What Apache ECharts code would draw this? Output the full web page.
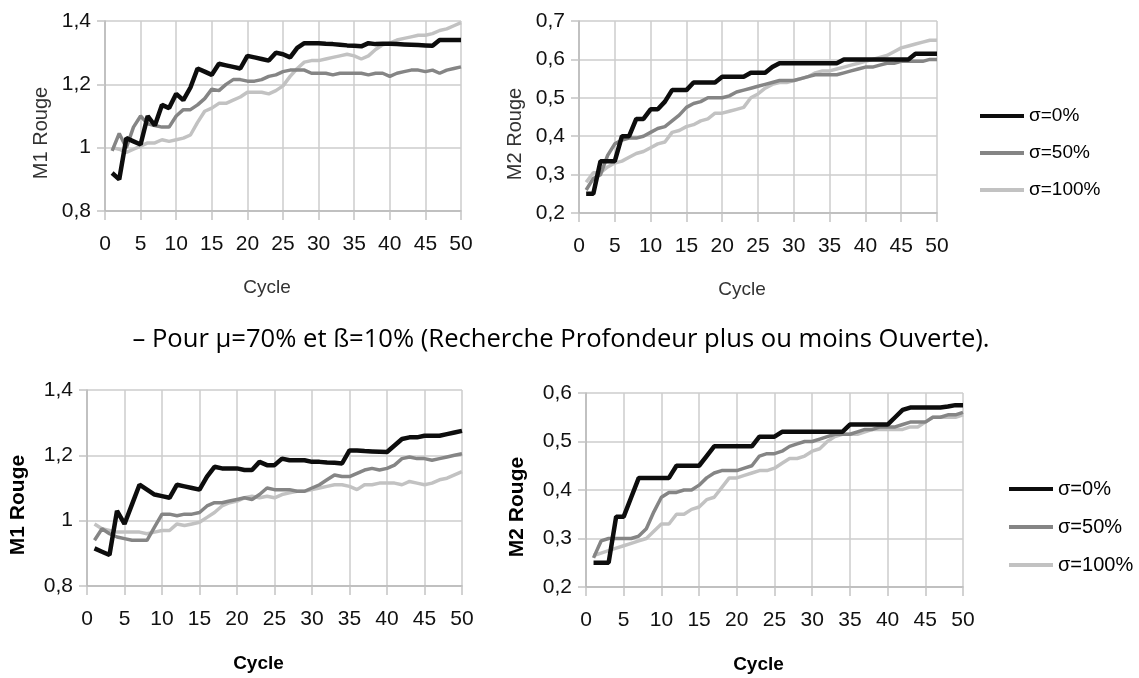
<!DOCTYPE html>
<html>
<head>
<meta charset="utf-8">
<script src="https://cdn.jsdelivr.net/npm/echarts@6/dist/echarts.min.js"></script>
<style>
  html, body { margin: 0; padding: 0; background: #fff; }
  #chart { width: 1139px; height: 678px; }
</style>
</head>
<body>
<div id="chart"></div>
<script>
// cycles 1..50
const cycles = [1,2,3,4,5,6,7,8,9,10,11,12,13,14,15,16,17,18,19,20,21,22,23,24,25,26,27,28,29,30,31,32,33,34,35,36,37,38,39,40,41,42,43,44,45,46,47,48,49,50];
const seriesNames = ['σ=0%', 'σ=50%', 'σ=100%'];
const caption = '– Pour µ=70% et ß=10% (Recherche Profondeur plus ou moins Ouverte).';

// top pair of charts
const topM1S0 = [0.92,0.90,1.03,1.02,1.01,1.10,1.07,1.135,1.125,1.17,1.15,1.19,1.25,1.24,1.23,1.265,1.26,1.255,1.25,1.29,1.285,1.28,1.275,1.30,1.295,1.285,1.315,1.33,1.33,1.33,1.328,1.327,1.325,1.323,1.322,1.32,1.33,1.327,1.328,1.328,1.327,1.326,1.325,1.324,1.323,1.322,1.34,1.34,1.34,1.34];
const topM1S50 = [0.99,1.045,1.00,1.065,1.10,1.075,1.07,1.065,1.065,1.10,1.12,1.12,1.135,1.155,1.185,1.18,1.20,1.215,1.215,1.21,1.21,1.215,1.225,1.23,1.24,1.245,1.245,1.245,1.235,1.235,1.235,1.23,1.235,1.235,1.235,1.235,1.23,1.235,1.235,1.225,1.235,1.24,1.245,1.245,1.24,1.245,1.235,1.245,1.25,1.255];
const topM1S100 = [1.0,0.995,0.985,0.995,1.005,1.015,1.015,1.025,1.02,1.025,1.03,1.04,1.08,1.115,1.125,1.14,1.14,1.15,1.16,1.175,1.175,1.175,1.17,1.18,1.195,1.225,1.25,1.27,1.275,1.275,1.28,1.285,1.29,1.295,1.29,1.28,1.29,1.31,1.325,1.33,1.34,1.345,1.35,1.355,1.355,1.36,1.37,1.375,1.385,1.395];

const topM2S0 = [0.25,0.25,0.335,0.335,0.335,0.40,0.40,0.445,0.445,0.47,0.47,0.49,0.52,0.52,0.52,0.54,0.54,0.54,0.54,0.555,0.555,0.555,0.555,0.565,0.565,0.565,0.58,0.59,0.59,0.59,0.59,0.59,0.59,0.59,0.59,0.59,0.60,0.60,0.60,0.60,0.60,0.60,0.60,0.60,0.60,0.60,0.615,0.615,0.615,0.615];
const topM2S50 = [0.26,0.29,0.30,0.35,0.38,0.39,0.395,0.395,0.40,0.41,0.42,0.425,0.44,0.455,0.475,0.485,0.49,0.50,0.50,0.50,0.505,0.515,0.52,0.525,0.53,0.535,0.54,0.545,0.545,0.545,0.55,0.555,0.56,0.56,0.56,0.56,0.565,0.57,0.575,0.58,0.58,0.585,0.59,0.59,0.595,0.595,0.595,0.595,0.60,0.60];
const topM2S100 = [0.28,0.305,0.305,0.32,0.33,0.335,0.345,0.355,0.36,0.37,0.38,0.385,0.41,0.415,0.425,0.43,0.44,0.445,0.46,0.46,0.465,0.47,0.475,0.50,0.51,0.525,0.535,0.54,0.54,0.545,0.55,0.555,0.565,0.57,0.57,0.575,0.58,0.585,0.59,0.595,0.60,0.605,0.61,0.62,0.63,0.635,0.64,0.645,0.65,0.65];

// bottom pair (mu=70%, beta=10%)
const botM1S0 = [0.915,0.905,0.895,1.03,0.99,1.05,1.11,1.095,1.08,1.075,1.07,1.11,1.105,1.10,1.095,1.135,1.165,1.16,1.16,1.16,1.155,1.155,1.18,1.17,1.17,1.19,1.185,1.185,1.185,1.18,1.18,1.178,1.177,1.175,1.215,1.215,1.213,1.212,1.211,1.21,1.23,1.25,1.255,1.255,1.26,1.26,1.26,1.265,1.27,1.275];
const botM1S50 = [0.94,0.975,0.96,0.95,0.945,0.94,0.94,0.94,0.98,1.02,1.02,1.015,1.02,1.02,1.025,1.045,1.055,1.055,1.06,1.065,1.07,1.065,1.08,1.10,1.095,1.095,1.095,1.09,1.09,1.10,1.11,1.125,1.14,1.135,1.135,1.145,1.155,1.16,1.155,1.16,1.17,1.19,1.195,1.19,1.19,1.185,1.19,1.195,1.20,1.205];
const botM1S100 = [0.99,0.975,0.97,0.965,0.965,0.965,0.965,0.96,0.965,0.97,0.97,0.99,0.985,0.99,0.995,1.01,1.025,1.045,1.055,1.06,1.07,1.075,1.07,1.075,1.07,1.08,1.085,1.09,1.09,1.095,1.10,1.105,1.11,1.11,1.105,1.095,1.11,1.11,1.115,1.115,1.115,1.11,1.12,1.115,1.11,1.115,1.125,1.13,1.14,1.15];

const botM2S0 = [0.25,0.25,0.25,0.345,0.345,0.385,0.425,0.425,0.425,0.425,0.425,0.45,0.45,0.45,0.45,0.47,0.49,0.49,0.49,0.49,0.49,0.49,0.51,0.51,0.51,0.52,0.52,0.52,0.52,0.52,0.52,0.52,0.52,0.52,0.535,0.535,0.535,0.535,0.535,0.535,0.55,0.565,0.57,0.57,0.57,0.57,0.57,0.572,0.575,0.575];
const botM2S50 = [0.26,0.295,0.30,0.30,0.30,0.30,0.305,0.32,0.355,0.385,0.395,0.395,0.40,0.40,0.41,0.425,0.435,0.44,0.44,0.44,0.445,0.45,0.47,0.475,0.475,0.48,0.49,0.495,0.50,0.50,0.505,0.51,0.515,0.515,0.515,0.52,0.525,0.525,0.53,0.53,0.53,0.535,0.54,0.54,0.54,0.55,0.55,0.555,0.555,0.56];
const botM2S100 = [0.265,0.27,0.275,0.28,0.285,0.29,0.295,0.30,0.315,0.33,0.33,0.35,0.35,0.36,0.365,0.38,0.385,0.405,0.425,0.425,0.43,0.435,0.44,0.44,0.445,0.455,0.465,0.465,0.47,0.48,0.485,0.50,0.51,0.515,0.515,0.515,0.52,0.525,0.525,0.525,0.525,0.525,0.53,0.53,0.54,0.55,0.55,0.55,0.55,0.555];

const lineColors = ['#0d0d0d', '#858585', '#c2c2c2'];
const lineWidths = [4.5, 3.5, 3.5];
const gridColor = '#cdcdcd';
const font = 'Liberation Sans, Arial, sans-serif';

let chart = echarts.init(document.getElementById('chart'));

// one panel = grid + x axis + y axis
let panels = [
  {grid: {left: 105, top: 21, width: 356, height: 190}, yName: 'M1 Rouge', min: 0.8, max: 1.4, step: 0.2, bold: false, data: [topM1S0, topM1S50, topM1S100]},
  {grid: {left: 579, top: 21, width: 358, height: 192}, yName: 'M2 Rouge', min: 0.2, max: 0.7, step: 0.1, bold: false, data: [topM2S0, topM2S50, topM2S100]},
  {grid: {left: 87, top: 390, width: 375, height: 196}, yName: 'M1 Rouge', min: 0.8, max: 1.4, step: 0.2, bold: true, data: [botM1S0, botM1S50, botM1S100]},
  {grid: {left: 586, top: 393, width: 377, height: 194}, yName: 'M2 Rouge', min: 0.2, max: 0.6, step: 0.1, bold: true, data: [botM2S0, botM2S50, botM2S100]}
];

let grids = [], xAxes = [], yAxes = [], series = [];
panels.forEach(function (p, i) {
  grids.push(p.grid);
  let titleColor = p.bold ? '#000' : '#333';
  let titleWeight = p.bold ? 'bold' : 'normal';
  xAxes.push({
    type: 'value', gridIndex: i, min: 0, max: 50, interval: 5,
    name: 'Cycle', nameLocation: 'middle', nameGap: p.bold ? 68 : 67,
    nameTextStyle: {fontFamily: font, fontSize: 19, color: titleColor, fontWeight: titleWeight, padding: [0, 32, 0, 0]},
    axisLine: {lineStyle: {color: '#b8b8b8', width: 1.5}},
    axisTick: {show: true, length: 9, lineStyle: {color: '#c4c4c4', width: 1.5}},
    axisLabel: {fontFamily: font, fontSize: 21, color: '#111', margin: 23},
    splitLine: {show: true, lineStyle: {color: gridColor, width: 1.5}}
  });
  yAxes.push({
    type: 'value', gridIndex: i, min: p.min, max: p.max, interval: p.step,
    name: p.yName, nameLocation: 'middle', nameGap: p.bold ? 58 : 54,
    nameTextStyle: {fontFamily: font, fontSize: p.bold ? 21 : 20, color: titleColor, fontWeight: titleWeight, padding: [0, 34, 0, 0]},
    axisLine: {show: true, lineStyle: {color: '#b8b8b8', width: 1.5}},
    axisTick: {show: true, length: 8, lineStyle: {color: '#c4c4c4', width: 1.5}},
    axisLabel: {
      fontFamily: font, fontSize: 21, color: '#111', margin: 14,
      formatter: function (v) { return String(+v.toFixed(2)).replace('.', ','); }
    },
    splitLine: {show: true, lineStyle: {color: gridColor, width: 1.5}}
  });
  // draw light lines first so black stays on top
  for (let k = 2; k >= 0; k--) {
    series.push({
      name: seriesNames[k], type: 'line', xAxisIndex: i, yAxisIndex: i,
      showSymbol: false, symbol: 'none', z: 3 - k,
      lineStyle: {color: lineColors[k], width: lineWidths[k]},
      itemStyle: {color: lineColors[k]},
      data: cycles.map(function (c, j) { return [c, p.data[k][j]]; })
    });
  }
});

function legendAt(left, top, size, gap) {
  return {
    left: left, top: top, orient: 'vertical',
    data: seriesNames, icon: 'rect', itemWidth: 44, itemHeight: 4, itemGap: gap,
    selectedMode: false,
    textStyle: {fontFamily: font, fontSize: size, color: '#000', lineHeight: 20, padding: [0, 0, 0, 0]}
  };
}

let options = {
  backgroundColor: '#fff',
  animation: false,
  grid: grids,
  xAxis: xAxes,
  yAxis: yAxes,
  legend: [legendAt(975, 101, 19, 17), legendAt(1004, 474, 20, 18)],
  graphic: [{
    type: 'text', x: 561, y: 340,
    style: {text: caption, fontFamily: 'Open Sans, sans-serif', fontSize: 25.6, fill: '#000', align: 'center', verticalAlign: 'middle'}
  }],
  series: series
};
chart.setOption(options);
</script>
</body>
</html>
